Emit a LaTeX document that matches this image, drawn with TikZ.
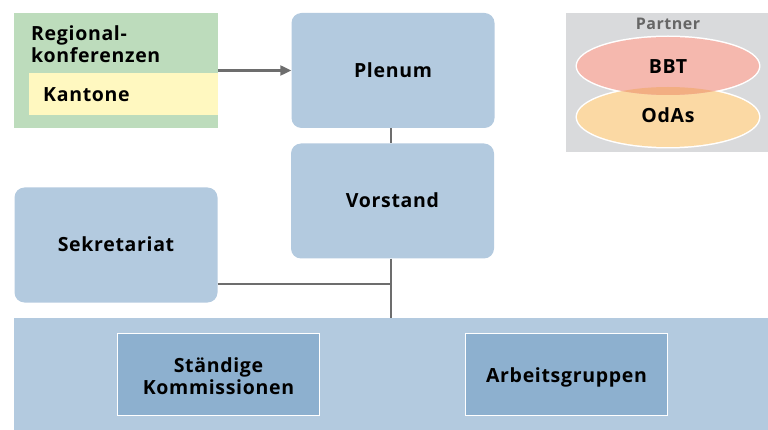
\documentclass[tikz,border=0pt]{standalone}
\usepackage{fontspec}
\setmainfont[LetterSpace=3.5]{Open Sans}
\usetikzlibrary{shapes.geometric,arrows.meta}
\definecolor{boxblue}{HTML}{B3CADF}
\definecolor{darkblue}{HTML}{8DB0CF}
\definecolor{green}{HTML}{BDDCBC}
\definecolor{yell}{HTML}{FFF8C0}
\definecolor{pgray}{HTML}{D9DADC}
\definecolor{bbt}{HTML}{F5B8AE}
\definecolor{odas}{HTML}{FBD9A4}
\definecolor{overlap}{HTML}{F2AE82}
\definecolor{linegray}{HTML}{6D6D6D}
\definecolor{ptext}{HTML}{666666}
\tikzset{
  lbl/.style={font=\fontsize{19.5}{22}\selectfont\bfseries},
  roundbox/.style={fill=boxblue, rounded corners=10pt, minimum width=203pt, minimum height=115pt, inner sep=0pt, lbl, text height=14pt, text depth=0pt},
  innerbox/.style={fill=darkblue, draw=white, line width=1.5pt, minimum width=202pt, minimum height=82pt, inner sep=0pt, lbl, align=center, text depth=0pt},
  conn/.style={draw=linegray, line width=2.2pt},
}
\begin{document}
\begin{tikzpicture}[x=1pt,y=-1pt]
\useasboundingbox (0,0) rectangle (768,430);
% Regionalkonferenzen
\node[fill=green, minimum width=204pt, minimum height=115pt, inner sep=0pt] (reg) at (116,70.5) {};
\node[fill=yell, minimum width=189pt, minimum height=42pt, inner sep=0pt] (kant) at (123.5,94) {};
\node[lbl, anchor=base west, align=left, inner sep=0pt] (regtxt) at (31,63) {Regional-\\konferenzen};
\node[lbl, anchor=base west, inner sep=0pt] (kanttxt) at (43,102) {Kantone};
% Plenum, Vorstand, Sekretariat
\node[roundbox] (plenum) at (393,70.5) {Plenum};
\node[roundbox] (vorstand) at (392.5,201) {Vorstand};
\node[roundbox] (sekr) at (116,245) {Sekretariat};
% bottom band
\node[fill=boxblue, minimum width=754pt, minimum height=112pt, inner sep=0pt] (band) at (391,374) {};
\node[innerbox, text height=39pt] (stk) at (218.5,374.5) {Ständige\\Kommissionen};
\node[innerbox, text height=15pt] (arb) at (566.5,374.5) {Arbeitsgruppen};
% Partner
\node[fill=pgray, minimum width=202pt, minimum height=139pt, inner sep=0pt] (partner) at (667,82.5) {};
\node[font=\fontsize{16}{18}\selectfont\bfseries, text=ptext, anchor=base, inner sep=0pt] (ptxt) at (668,30) {Partner};
\draw[white, line width=3pt] (668,66) ellipse [x radius=91, y radius=29];
\draw[white, line width=3pt] (668,117) ellipse [x radius=91, y radius=30];
\fill[odas] (668,117) ellipse [x radius=91, y radius=30];
\fill[bbt] (668,66) ellipse [x radius=91, y radius=29];
\begin{scope}
\clip (668,66) ellipse [x radius=91, y radius=29];
\fill[overlap] (668,117) ellipse [x radius=91, y radius=30];
\end{scope}
\node[lbl, anchor=base, inner sep=0pt] (bbtt) at (668,74) {BBT};
\node[lbl, anchor=base, inner sep=0pt] (odast) at (668,123) {OdAs};
% connectors
\coordinate (cx) at (391,0);
\draw[conn, -{Triangle[length=11pt,width=10pt]}] (reg.east |- plenum.west) -- (plenum.west);
\draw[conn] (cx |- plenum.south) -- (cx |- vorstand.north);
\draw[conn] (cx |- vorstand.south) -- (cx |- band.north);
\coordinate (j) at (cx |- 0,284);
\draw[conn] (sekr.east |- j) -- (j);
\end{tikzpicture}
\end{document}
